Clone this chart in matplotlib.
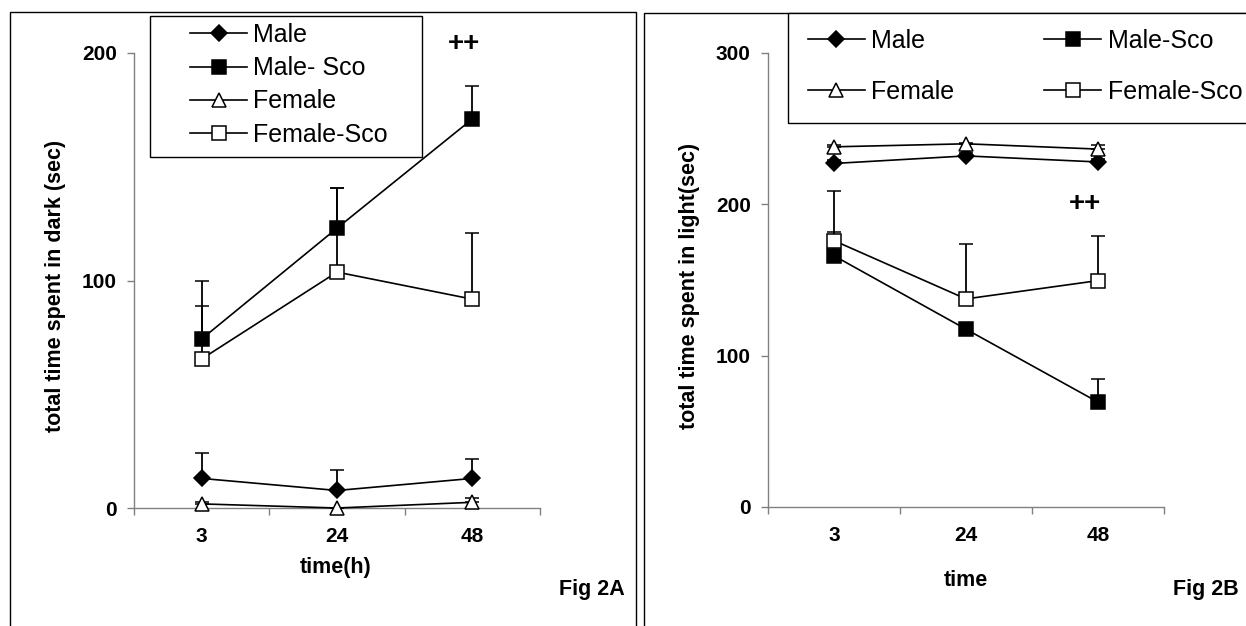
import matplotlib

matplotlib.use("Agg")

import numpy as np
import matplotlib.pyplot as plt
from matplotlib.patches import Rectangle

plt.rcParams["font.family"] = ["Liberation Sans", "DejaVu Sans"]

W, H = 1246, 626

# ---- data ----
times = ["3", "24", "48"]

dark_male = [13, 7.7, 13]
dark_male_err = [11.3, 8.8, 8.7]
dark_male_sco = [74.3, 123, 171]
dark_male_sco_err = [25.5, 17.5, 14.6]
dark_female = [1.8, 0, 2.5]
dark_female_err = [0.8, 0, 1.7]
dark_female_sco = [65.5, 103.7, 91.8]
dark_female_sco_err = [23.1, 36.8, 29.2]

light_male = [227, 232, 228]
light_male_err = [2, 2, 2]
light_male_sco = [166, 117.5, 69.3]
light_male_sco_err = [15.4, 0, 15]
light_female = [238, 240, 236.5]
light_female_err = [1.5, 0.5, 2.7]
light_female_sco = [176, 137.5, 149.6]
light_female_sco_err = [33, 36.5, 29.6]

GRAY = "#808080"


def px(x, y):
    return x / W, 1 - y / H


def series(ax, y, err, marker, ms, fc):
    x = np.arange(len(times)) + 0.5
    cont = ax.errorbar(
        x, y, yerr=[np.zeros(len(y)), err], color="black", lw=1.2,
        marker=marker, ms=ms, mfc=fc, mec="black", mew=1.1,
        elinewidth=1.3, capsize=5.2, capthick=1.3, clip_on=False, zorder=3,
    )
    for art in cont.lines[1] + cont.lines[2]:
        art.set_clip_on(False)
    return cont[0]


def style_axis(ax, ymax, step):
    for s in ("top", "right"):
        ax.spines[s].set_visible(False)
    for s in ("left", "bottom"):
        ax.spines[s].set_color(GRAY)
        ax.spines[s].set_linewidth(1.0)
    ax.set_xlim(0, 3)
    ax.set_ylim(0, ymax)
    ax.set_yticks(np.arange(0, ymax + 1, step))
    ax.set_xticks(np.arange(len(times)) + 0.5)
    ax.set_xticklabels(times)
    ax.set_xticks([0, 1, 2, 3], minor=True)
    ax.tick_params(axis="y", direction="out", length=5, width=1, color=GRAY, pad=7.5,
                   labelsize=15)
    ax.tick_params(axis="x", which="major", length=0, pad=14, labelsize=15)
    ax.tick_params(axis="x", which="minor", direction="out", length=5, width=1, color=GRAY)
    for lab in ax.get_xticklabels() + ax.get_yticklabels():
        lab.set_fontweight("bold")


fig = plt.figure(figsize=(W / 100, H / 100), dpi=100)

# panel frames
fig.add_artist(Rectangle(px(10, 640), 626 / W, (640 - 12.3) / H, transform=fig.transFigure,
                         fill=False, ec="black", lw=1.0))
fig.add_artist(Rectangle(px(644, 640), 640 / W, (640 - 13.3) / H, transform=fig.transFigure,
                         fill=False, ec="black", lw=1.0))

# ---- Fig 2A ----
axA = fig.add_axes([134 / W, 1 - 508 / H, (540 - 134) / W, (508 - 53) / H])
style_axis(axA, 200, 100)
hA = [
    series(axA, dark_male, dark_male_err, "D", 8.2, "black"),
    series(axA, dark_male_sco, dark_male_sco_err, "s", 10.5, "black"),
    series(axA, dark_female, dark_female_err, "^", 10.5, "white"),
    series(axA, dark_female_sco, dark_female_sco_err, "s", 9.5, "white"),
]
axA.text(2.44, 204, "++", ha="center", va="center", fontsize=20, fontweight="bold")

fig.add_artist(Rectangle(px(150, 157), (422 - 150) / W, (157 - 16) / H,
                         transform=fig.transFigure, fill=True, fc="white", ec="black",
                         lw=1.0, zorder=4))
legA = fig.legend(hA, ["Male", "Male- Sco", "Female", "Female-Sco"], loc="upper left",
                  bbox_to_anchor=px(190, 23), bbox_transform=fig.transFigure,
                  frameon=False, fontsize=18, handlelength=2.28, handletextpad=0.25,
                  labelspacing=0.37, borderpad=0, borderaxespad=0)
legA.set_zorder(5)

fig.text(*px(55, 286), "total time spent in dark (sec)", rotation=90, ha="center",
         va="center", fontsize=15.5, fontweight="bold")
fig.text(*px(336, 568), "time(h)", ha="center", va="center", fontsize=15.5,
         fontweight="bold")
fig.text(*px(559, 589), "Fig 2A", ha="left", va="center", fontsize=15.5, fontweight="bold")

# ---- Fig 2B ----
axB = fig.add_axes([768 / W, 1 - 507 / H, (1164 - 768) / W, (507 - 53) / H])
style_axis(axB, 300, 100)
hB = [
    series(axB, light_male, light_male_err, "D", 8.2, "black"),
    series(axB, light_male_sco, light_male_sco_err, "s", 10.5, "black"),
    series(axB, light_female, light_female_err, "^", 10.5, "white"),
    series(axB, light_female_sco, light_female_sco_err, "s", 9.5, "white"),
]
axB.text(2.4, 200, "++", ha="center", va="center", fontsize=20, fontweight="bold")

fig.add_artist(Rectangle(px(788, 123), 500 / W, (123 - 13) / H,
                         transform=fig.transFigure, fill=True, fc="white", ec="black",
                         lw=1.0, zorder=4))
legB = fig.legend([hB[0], hB[2], hB[1], hB[3]], ["Male", "Female", "Male-Sco", "Female-Sco"],
                  ncol=2, loc="upper left", bbox_to_anchor=px(808, 28.5),
                  bbox_transform=fig.transFigure, frameon=False, fontsize=18,
                  handlelength=2.28, handletextpad=0.25, labelspacing=1.1,
                  columnspacing=3.6, borderpad=0, borderaxespad=0)
legB.set_zorder(5)

fig.text(*px(690, 286), "total time spent in light(sec)", rotation=90, ha="center",
         va="center", fontsize=15.5, fontweight="bold")
fig.text(*px(966, 580), "time", ha="center", va="center", fontsize=15.5, fontweight="bold")
fig.text(*px(1173, 589), "Fig 2B", ha="left", va="center", fontsize=15.5, fontweight="bold")

fig.savefig("out.png", dpi=100, facecolor="white")
